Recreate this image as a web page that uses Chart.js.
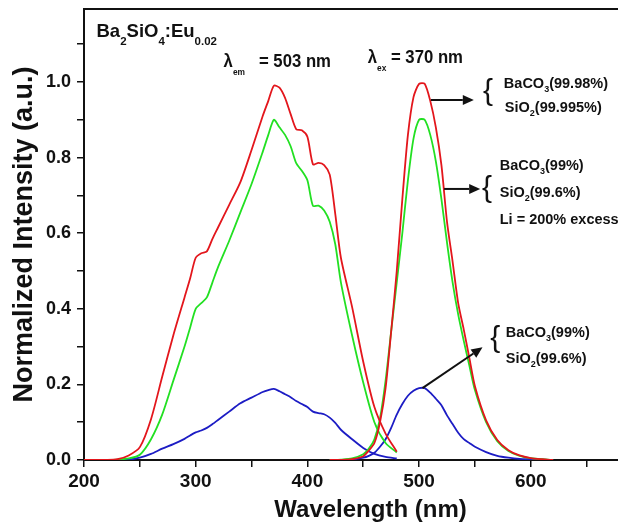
<!DOCTYPE html>
<html>
<head>
<meta charset="utf-8">
<script src="https://cdn.jsdelivr.net/npm/chart.js@4/dist/chart.umd.min.js"></script>
<style>
  html, body { margin: 0; padding: 0; background: #fff; overflow: hidden; }
  #wrap { width: 618px; height: 525px; overflow: hidden; }
</style>
</head>
<body>
<div id="wrap"><canvas id="chart" width="657" height="525"></canvas></div>
<script>
// excitation spectra (monitored at 503 nm)
const exWl = [200, 210, 220, 230, 240, 250, 260, 270, 280, 290, 295, 300, 305, 310, 315, 320, 330, 340, 350, 360, 365, 370, 375, 380, 385, 390, 395, 400, 405, 410, 415, 420, 425, 430, 440, 450, 460, 470, 480];
const exRed = [0, 0, 0, 0.002, 0.012, 0.034, 0.108, 0.22, 0.33, 0.43, 0.48, 0.535, 0.547, 0.552, 0.585, 0.615, 0.675, 0.735, 0.82, 0.91, 0.95, 0.99, 0.985, 0.958, 0.915, 0.875, 0.872, 0.855, 0.782, 0.786, 0.78, 0.755, 0.65, 0.535, 0.405, 0.26, 0.14, 0.07, 0.022];
const exGreen = [0, 0, 0, 0.001, 0.004, 0.014, 0.055, 0.12, 0.21, 0.30, 0.35, 0.40, 0.415, 0.43, 0.47, 0.51, 0.58, 0.655, 0.73, 0.815, 0.86, 0.90, 0.88, 0.86, 0.83, 0.785, 0.765, 0.74, 0.672, 0.673, 0.66, 0.63, 0.57, 0.47, 0.33, 0.205, 0.1, 0.045, 0.02];
const exBlue = [0, 0, 0, 0, 0.001, 0.006, 0.016, 0.03, 0.042, 0.056, 0.065, 0.073, 0.078, 0.085, 0.095, 0.106, 0.128, 0.15, 0.165, 0.18, 0.185, 0.188, 0.182, 0.174, 0.166, 0.156, 0.148, 0.14, 0.128, 0.124, 0.121, 0.112, 0.098, 0.08, 0.055, 0.032, 0.016, 0.008, 0.004];

// emission spectra (excited at 370 nm)
const emWl = [420, 430, 440, 450, 455, 460, 465, 470, 475, 480, 485, 490, 495, 500, 505, 510, 515, 520, 525, 530, 535, 540, 545, 550, 560, 570, 580, 590, 600, 610, 620];
const emRed = [0, 0, 0.002, 0.01, 0.025, 0.045, 0.1, 0.19, 0.34, 0.5, 0.69, 0.86, 0.96, 0.995, 0.995, 0.95, 0.88, 0.78, 0.63, 0.525, 0.415, 0.345, 0.27, 0.195, 0.105, 0.053, 0.026, 0.012, 0.005, 0.002, 0];
const emGreen = [0, 0.001, 0.004, 0.015, 0.03, 0.055, 0.11, 0.21, 0.34, 0.47, 0.6, 0.74, 0.85, 0.9, 0.9, 0.86, 0.79, 0.69, 0.575, 0.47, 0.385, 0.315, 0.25, 0.185, 0.1, 0.05, 0.024, 0.011, 0.005, 0.002, 0];
const emBlue = [0, 0, 0.001, 0.006, 0.011, 0.019, 0.035, 0.055, 0.085, 0.12, 0.148, 0.17, 0.183, 0.19, 0.19, 0.178, 0.162, 0.145, 0.118, 0.095, 0.072, 0.055, 0.045, 0.035, 0.021, 0.011, 0.006, 0.003, 0.002, 0.001, 0];

const RED = '#e3161c', GREEN = '#22e022', BLUE = '#1c1cc4';

// text notes, anchored in data coordinates (wavelength, intensity) at the baseline
const notes = [
    { x: 211.2, y: 1.119, size: 18.5, sx: 1, sub: 0.62, drop: 8, parts: [['Ba'], ['2', 1], ['SiO'], ['4', 1], [':Eu'], ['0.02', 1]] },
    { x: 325, y: 1.040, size: 19, sx: 0.88, sub: 0.5, drop: 8, parts: [['λ'], ['em', 1], ['   = 503 nm']] },
    { x: 454, y: 1.050, size: 19, sx: 0.88, sub: 0.5, drop: 8, parts: [['λ'], ['ex', 1], [' = 370 nm']] },
    { x: 575.9, y: 0.984, size: 14.5, sx: 1, sub: 0.62, drop: 4, parts: [['BaCO'], ['3', 1], ['(99.98%)']] },
    { x: 576.8, y: 0.921, size: 14.5, sx: 1, sub: 0.62, drop: 4, parts: [['SiO'], ['2', 1], ['(99.995%)']] },
    { x: 572.2, y: 0.767, size: 14.5, sx: 1, sub: 0.62, drop: 4, parts: [['BaCO'], ['3', 1], ['(99%)']] },
    { x: 572.2, y: 0.696, size: 14.5, sx: 1, sub: 0.62, drop: 4, parts: [['SiO'], ['2', 1], ['(99.6%)']] },
    { x: 572.2, y: 0.624, size: 14.5, sx: 1, sub: 0.62, drop: 4, parts: [['Li = 200% excess']] },
    { x: 577.6, y: 0.325, size: 14.5, sx: 1, sub: 0.62, drop: 4, parts: [['BaCO'], ['3', 1], ['(99%)']] },
    { x: 577.6, y: 0.257, size: 14.5, sx: 1, sub: 0.62, drop: 4, parts: [['SiO'], ['2', 1], ['(99.6%)']] }
];
const braces = [[557.3, 0.953], [556.4, 0.696], [563.6, 0.299]];
const arrows = [
    [510.5, 0.952, 549, 0.952],
    [522.4, 0.717, 554.7, 0.717],
    [503, 0.19, 556.8, 0.298]
];

function pts(xs, ys) {
    return xs.map((x, i) => ({ x: x, y: ys[i] }));
}

function drawRich(ctx, n, px, py) {
    ctx.save();
    ctx.translate(px, py);
    ctx.scale(n.sx, 1);
    ctx.textBaseline = 'alphabetic';
    let cx = 0;
    n.parts.forEach(p => {
        const isSub = p[1] === 1;
        ctx.font = 'bold ' + (isSub ? n.size * n.sub : n.size) + 'px Arial, "Liberation Sans"';
        ctx.fillText(p[0], cx, isSub ? n.drop : 0);
        cx += ctx.measureText(p[0]).width;
    });
    ctx.restore();
}

const notePlugin = {
    id: 'notes',
    afterDatasetsDraw(chart) {
        const ctx = chart.ctx;
        const xs = chart.scales.x, ys = chart.scales.y;
        ctx.save();
        ctx.fillStyle = '#111';
        ctx.strokeStyle = '#111';
        notes.forEach(n => drawRich(ctx, n, xs.getPixelForValue(n.x), ys.getPixelForValue(n.y)));

        ctx.font = '30px Arial, "Liberation Sans"';
        ctx.textBaseline = 'alphabetic';
        braces.forEach(b => ctx.fillText('{', xs.getPixelForValue(b[0]), ys.getPixelForValue(b[1])));

        ctx.lineWidth = 2;
        arrows.forEach(a => {
            const x1 = xs.getPixelForValue(a[0]), y1 = ys.getPixelForValue(a[1]);
            const x2 = xs.getPixelForValue(a[2]), y2 = ys.getPixelForValue(a[3]);
            const ang = Math.atan2(y2 - y1, x2 - x1);
            const hl = 11, hw = 5;
            const bx = x2 - hl * Math.cos(ang), by = y2 - hl * Math.sin(ang);
            ctx.beginPath();
            ctx.moveTo(x1, y1);
            ctx.lineTo(bx, by);
            ctx.stroke();
            ctx.beginPath();
            ctx.moveTo(x2, y2);
            ctx.lineTo(bx + hw * Math.sin(ang), by - hw * Math.cos(ang));
            ctx.lineTo(bx - hw * Math.sin(ang), by + hw * Math.cos(ang));
            ctx.closePath();
            ctx.fill();
        });
        ctx.restore();
    }
};

function line(data, color) {
    return { data: data, borderColor: color, borderWidth: 1.8, pointRadius: 0, tension: 0.25, fill: false };
}

const axisFont = { family: 'Arial, "Liberation Sans"', weight: 'bold' };

new Chart(document.getElementById('chart'), {
    type: 'line',
    data: {
        datasets: [
            line(pts(exWl, exRed), RED),
            line(pts(emWl, emRed), RED),
            line(pts(exWl, exGreen), GREEN),
            line(pts(emWl, emGreen), GREEN),
            line(pts(exWl, exBlue), BLUE),
            line(pts(emWl, emBlue), BLUE)
        ]
    },
    options: {
        responsive: false,
        animation: false,
        devicePixelRatio: 1,
        layout: { padding: { top: 9, left: 0, right: 0, bottom: 0 } },
        plugins: { legend: { display: false }, tooltip: { enabled: false } },
        scales: {
            x: {
                type: 'linear',
                min: 200,
                max: 713,
                afterFit: s => { s.height = 65; s.paddingLeft = 0; s.paddingRight = 0; },
                afterBuildTicks: s => { s.ticks = s.ticks.filter(t => t.value % 50 === 0); },
                ticks: {
                    stepSize: 50,
                    autoSkip: false,
                    maxRotation: 0,
                    padding: 3,
                    color: '#111',
                    font: { ...axisFont, size: 19 },
                    callback: v => (v % 100 === 0 ? String(v) : '')
                },
                grid: { drawOnChartArea: false, drawTicks: true, tickLength: 7, color: '#111', lineWidth: 1.5 },
                border: { color: '#111', width: 2 },
                title: {
                    display: true,
                    text: 'Wavelength (nm)',
                    color: '#111',
                    font: { ...axisFont, size: 24 },
                    padding: { top: 0, bottom: 0 }
                }
            },
            x2: {
                type: 'linear',
                position: 'top',
                min: 200,
                max: 713,
                afterFit: s => { s.height = 0; s.paddingLeft = 0; s.paddingRight = 0; },
                ticks: { display: false },
                grid: { drawOnChartArea: false, drawTicks: false },
                border: { color: '#111', width: 2 }
            },
            y: {
                min: 0,
                max: 1.193,
                afterFit: s => { s.width = 84; s.paddingTop = 0; s.paddingBottom = 0; },
                afterBuildTicks: s => {
                    s.ticks = s.ticks.filter(t => Math.abs(t.value * 10 - Math.round(t.value * 10)) < 1e-6);
                },
                ticks: {
                    stepSize: 0.1,
                    padding: 6,
                    color: '#111',
                    font: { ...axisFont, size: 18 },
                    callback: v => (Math.round(v * 10) % 2 === 0 && v < 1.05 ? v.toFixed(1) : '')
                },
                grid: { drawOnChartArea: false, drawTicks: true, tickLength: 7, color: '#111', lineWidth: 1.5 },
                border: { color: '#111', width: 2 },
                title: {
                    display: true,
                    text: 'Normalized Intensity (a.u.)',
                    color: '#111',
                    font: { ...axisFont, size: 27 },
                    padding: { top: 8, bottom: 0 }
                }
            }
        }
    },
    plugins: [notePlugin]
});
</script>
</body>
</html>
